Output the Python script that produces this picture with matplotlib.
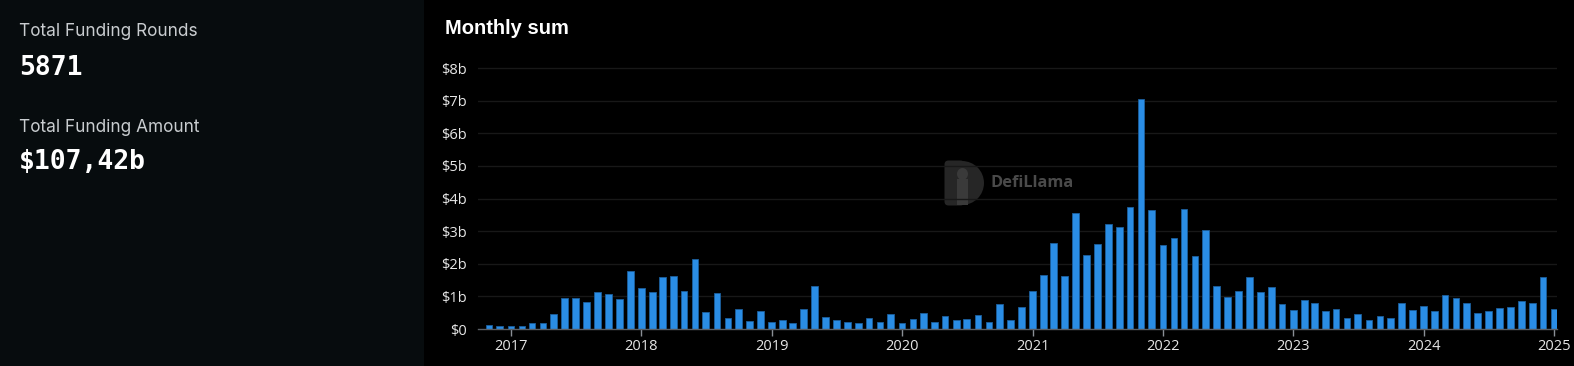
import datetime as dt
import numpy as np
import matplotlib
matplotlib.use("Agg")
import matplotlib.pyplot as plt
import matplotlib.dates as mdates
from matplotlib.patches import Rectangle, Wedge, Ellipse, FancyBboxPatch

# ---------------------- DATA (monthly funding, $ billions)
start_year, start_month = 2016, 11
amounts = [0.11, 0.09,
           0.08, 0.09, 0.18, 0.18, 0.45, 0.96, 0.95, 0.82, 1.13, 1.08, 0.93, 1.77,   # 2017
           1.26, 1.13, 1.60, 1.64, 1.18, 2.16, 0.51, 1.10, 0.35, 0.61, 0.24, 0.54,   # 2018
           0.21, 0.27, 0.18, 0.61, 1.31, 0.36, 0.28, 0.20, 0.19, 0.34, 0.23, 0.46,   # 2019
           0.18, 0.30, 0.49, 0.20, 0.39, 0.27, 0.30, 0.43, 0.21, 0.77, 0.27, 0.67,   # 2020
           1.17, 1.65, 2.63, 1.63, 3.55, 2.26, 2.62, 3.22, 3.14, 3.74, 7.07, 3.66,   # 2021
           2.59, 2.80, 3.67, 2.23, 3.05, 1.31, 0.98, 1.16, 1.61, 1.15, 1.28, 0.77,   # 2022
           0.58, 0.88, 0.79, 0.55, 0.62, 0.35, 0.46, 0.28, 0.40, 0.35, 0.80, 0.58,   # 2023
           0.71, 0.55, 1.04, 0.96, 0.79, 0.49, 0.55, 0.65, 0.67, 0.87, 0.80, 1.59,   # 2024
           0.61]                                                                      # 2025
months = []
y, m = start_year, start_month
for _ in amounts:
    months.append(dt.date(y, m, 1))
    m += 1
    if m > 12:
        m = 1
        y += 1

yticks = [0, 1, 2, 3, 4, 5, 6, 7, 8]
ytick_labels = ["$0"] + ["$%db" % v for v in yticks[1:]]
years = list(range(2017, 2026))

total_rounds = "5871"
total_amount = "$107,42b"

# ---------------------- FIGURE
W, H = 1574, 366
fig = plt.figure(figsize=(W / 100, H / 100), dpi=100)
fig.patch.set_facecolor("#000000")

# left stats panel
fig.patches.append(Rectangle((0, 0), 424 / W, 1, transform=fig.transFigure,
                             facecolor="#070c0e", edgecolor="none", zorder=0))
fig.text(19 / W, 1 - 32 / H, "Total Funding Rounds", color="#c9cdd0",
         fontsize=12.4, family="Inter", va="center", ha="left")
fig.text(19 / W, 1 - 68 / H, total_rounds, color="white", fontsize=19,
         family="DejaVu Sans Mono", weight="bold", va="center", ha="left")
fig.text(19 / W, 1 - 127 / H, "Total Funding Amount", color="#c9cdd0",
         fontsize=12.4, family="Inter", va="center", ha="left")
fig.text(19 / W, 1 - 162 / H, total_amount, color="white", fontsize=19,
         family="DejaVu Sans Mono", weight="bold", va="center", ha="left")

fig.text(445 / W, 1 - 28 / H, "Monthly sum", color="white", fontsize=14.5,
         family="Liberation Sans", weight="bold", va="center", ha="left")

# chart axes
x0, x1 = 477.7, 1556.7
ybot, ytop = 329.0, 60.0
ax = fig.add_axes([x0 / W, 1 - ybot / H, (x1 - x0) / W, (ybot - ytop) / H])
ax.set_facecolor("none")
ax.set_zorder(2)

ax.bar(months, amounts, width=18.8, color="#2a8de5", edgecolor="#1c5f9c",
       linewidth=0.6, zorder=3)

ax.set_xlim(mdates.date2num(dt.date(2016, 9, 30)), mdates.date2num(dt.date(2025, 1, 8)))
ax.set_ylim(0, (ybot - ytop) / 32.6)

ax.set_yticks(yticks)
ax.set_yticklabels(ytick_labels)
ax.set_xticks([dt.date(yr, 1, 1) for yr in years])
ax.set_xticklabels([str(yr) for yr in years])

for yv in yticks[1:]:
    ax.axhline(yv, color="#181818", linewidth=1.0, zorder=1)

for s in ["top", "right", "left"]:
    ax.spines[s].set_visible(False)
ax.spines["bottom"].set_color("#5a5f66")
ax.spines["bottom"].set_linewidth(1.0)
ax.spines["bottom"].set_zorder(4)

ax.tick_params(axis="y", length=0, pad=8, labelcolor="#e6e6e6", labelsize=10.5)
ax.tick_params(axis="x", length=5, width=1, color="#8a8f96", pad=2,
               labelcolor="#e6e6e6", labelsize=10.5)
for lab in ax.get_xticklabels() + ax.get_yticklabels():
    lab.set_family("Open Sans")

# watermark
wx = fig.add_axes([944 / W, 1 - 206 / H, 40 / W, 46 / H])
wx.axis("off")
wx.set_xlim(0, 40)
wx.set_ylim(0, 46)
wx.add_patch(FancyBboxPatch((0.5, 0.5), 20, 45, boxstyle="round,pad=0,rounding_size=4",
                            facecolor="#262626", edgecolor="none"))
wx.add_patch(Wedge((18, 23), 22, -90, 90, facecolor="#262626", edgecolor="none"))
wx.add_patch(Rectangle((13, 0.5), 11, 26, facecolor="#3a3a3a", edgecolor="none"))
wx.add_patch(Ellipse((18.5, 32), 11, 12, facecolor="#3a3a3a", edgecolor="none"))
fig.text(991 / W, 1 - 183 / H, "DefiLlama", color="#4a4a4a", fontsize=11.8,
         family="Open Sans", weight="bold", va="center", ha="left")

plt.savefig("out.png", dpi=100, facecolor=fig.get_facecolor())
